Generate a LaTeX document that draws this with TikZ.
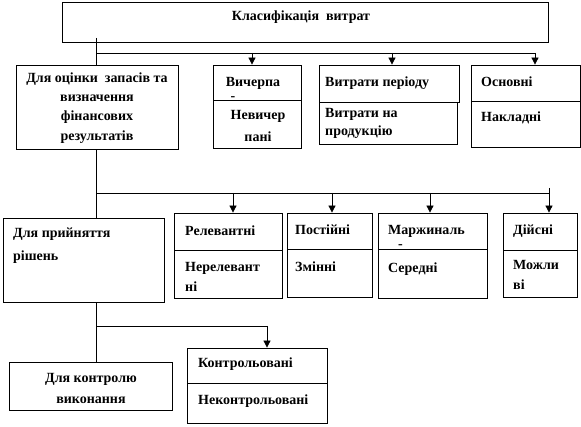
\documentclass[tikz,border=0pt]{standalone}
\usepackage{fontspec}
\setmainfont{Liberation Serif}
\usetikzlibrary{arrows.meta,fit}
\begin{document}
\begin{tikzpicture}[x=1pt,y=-1pt,
  box/.style={draw,line width=0.8pt,inner sep=0pt,rectangle},
  txt/.style={font=\fontsize{14}{19.3}\selectfont\bfseries,inner sep=0pt},
  ltxt/.style={txt,anchor=base west},
  ctxt/.style={txt,anchor=base},
  conn/.style={line width=0.8pt},
  arr/.style={conn,-{Triangle[length=7pt,width=7pt]}}]
\useasboundingbox (0,0) rectangle (581,427);

% ---- boxes ----
\node[box,fit={(62,2)(548,42)}] (top) {};
\node[box,fit={(16,65)(178,149)}] (a1) {};
\node[box,fit={(213,65)(301,100)}] (b1u) {};
\node[box,fit={(213,100)(301,148)}] (b1l) {};
\node[box,fit={(319,65)(459,102)}] (c1u) {};
\node[box,fit={(319,102)(457,144)}] (c1l) {};
\node[box,fit={(471,65)(580,101)}] (d1u) {};
\node[box,fit={(471,101)(580,147)}] (d1l) {};

\node[box,fit={(3,218)(164,302)}] (a2) {};
\node[box,fit={(174,213)(282,250)}] (b2u) {};
\node[box,fit={(174,250)(282,298)}] (b2l) {};
\node[box,fit={(287,213)(372,249)}] (c2u) {};
\node[box,fit={(287,249)(372,297)}] (c2l) {};
\node[box,fit={(378,213)(487,249)}] (d2u) {};
\node[box,fit={(378,249)(487,298)}] (d2l) {};
\node[box,fit={(503,213)(577,250)}] (e2u) {};
\node[box,fit={(503,250)(577,297)}] (e2l) {};

\node[box,fit={(9,362)(172,410)}] (a3) {};
\node[box,fit={(187,348)(327,383)}] (b3u) {};
\node[box,fit={(187,383)(327,423)}] (b3l) {};

% ---- texts ----
\node[ctxt] (ttop) at (301,21) {Класифікація\ \ витрат};
\node[ctxt,align=center,anchor=center] (ta1) at (97,108) {Для оцінки\ \ запасів та\\визначення\\фінансових\\результатів};
\node[ctxt] (tb1a) at (253,87) {Вичерпа};
\node[ctxt] (tb1h) at (233,101) {-};
\node[ctxt] (tb1b) at (258,120) {Невичер};
\node[ctxt] (tb1c) at (258,142) {пані};
\node[ltxt] (tc1a) at (325,87) {Витрати періоду};
\node[ltxt] (tc1b) at (325,118) {Витрати на};
\node[ltxt] (tc1c) at (325,136) {продукцію};
\node[ltxt] (td1a) at (481,87) {Основні};
\node[ltxt] (td1b) at (481,122) {Накладні};

\node[ltxt] (ta2a) at (13,238) {Для прийняття};
\node[ltxt] (ta2b) at (13,261) {рішень};
\node[ltxt] (tb2a) at (185,236) {Релевантні};
\node[ltxt] (tb2b) at (185,272) {Нерелевант};
\node[ltxt] (tb2c) at (185,292) {ні};
\node[ltxt] (tc2a) at (295,235) {Постійні};
\node[ltxt] (tc2b) at (295,272) {Змінні};
\node[ltxt] (td2a) at (388,235) {Маржиналь};
\node[ltxt] (td2h) at (398,249) {-};
\node[ltxt] (td2b) at (388,273) {Середні};
\node[ltxt] (te2a) at (513,235) {Дійсні};
\node[ltxt] (te2b) at (513,270) {Можли};
\node[ltxt] (te2c) at (513,290) {ві};

\node[ctxt] (ta3a) at (91,383) {Для контролю};
\node[ctxt] (ta3b) at (91,403) {виконання};
\node[ltxt] (tb3a) at (198,368) {Контрольовані};
\node[ltxt] (tb3b) at (198,405) {Неконтрольовані};

% ---- connectors ----
\coordinate (j0) at (96,38);
\coordinate (j1) at (96,53);
\coordinate (p1) at (252,53);
\coordinate (p2) at (392,53);
\coordinate (p3) at (535,53);
\draw[conn] (j0) -- (a1.north -| j1);
\draw[conn] (j1) -- (p3);
\draw[arr] (p1) -- (b1u.north -| p1);
\draw[arr] (p2) -- (c1u.north -| p2);
\draw[arr] (p3) -- (d1u.north -| p3);

\coordinate (j2) at (96,193);
\coordinate (q1) at (233,193);
\coordinate (q2) at (332,193);
\coordinate (q3) at (430,193);
\coordinate (q4) at (549,193);
\coordinate (q4t) at (549,188);
\draw[conn] (a1.south -| j1) -- (a2.north -| j1);
\draw[conn] (j2) -- (q4);
\draw[arr] (q1) -- (b2u.north -| q1);
\draw[arr] (q2) -- (c2u.north -| q2);
\draw[arr] (q3) -- (d2u.north -| q3);
\draw[arr] (q4t) -- (e2u.north -| q4);

\coordinate (j3) at (96,326);
\coordinate (r1) at (267,326);
\draw[conn] (a2.south -| j1) -- (a3.north -| j1);
\draw[conn] (j3) -- (r1);
\draw[arr] (r1) -- (b3u.north -| r1);
\end{tikzpicture}
\end{document}
